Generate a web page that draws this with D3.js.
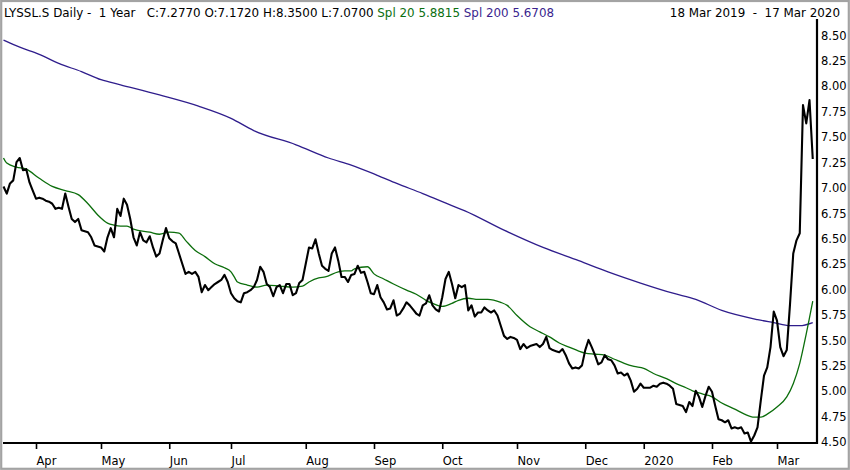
<!DOCTYPE html>
<html>
<head>
<meta charset="utf-8">
<script src="https://cdn.jsdelivr.net/npm/d3@7"></script>
<style>
  html, body { margin: 0; padding: 0; background: #fff; }
  svg { display: block; }
  text { font-family: "DejaVu Sans", Verdana, sans-serif; font-size: 11.5px; fill: #000; white-space: pre; }
  .hdr { font-size: 11.9px; }
</style>
</head>
<body>
<svg id="chart" width="850" height="470"></svg>
<script>
// ---------------- DATA ----------------
const startDate = "2019-03-18";
const endDate = "2020-03-17";
const holidays = ["2019-04-19","2019-04-22","2019-05-01","2019-05-30","2019-06-10","2019-08-01",
  "2019-12-24","2019-12-25","2019-12-26","2019-12-31","2020-01-01","2020-01-02"];
const monthNames = ["Jan","Feb","Mar","Apr","May","Jun","Jul","Aug","Sep","Oct","Nov","Dec"];
const yTicks = [4.50,4.75,5.00,5.25,5.50,5.75,6.00,6.25,6.50,6.75,7.00,7.25,7.50,7.75,8.00,8.25,8.50];

// daily closes, one per trading day (index = trading day number)
const closeValues = [
  7.01,6.94,7.04,7.07,7.25,7.29,7.17,7.18,7.05,6.97,
  6.89,6.90,6.89,6.87,6.86,6.84,6.79,6.80,6.79,6.94,
  6.81,6.69,6.66,6.69,6.58,6.57,6.56,6.51,6.43,6.42,
  6.41,6.37,6.51,6.60,6.51,6.79,6.72,6.89,6.83,6.69,
  6.51,6.43,6.56,6.48,6.46,6.52,6.41,6.32,6.35,6.48,
  6.60,6.50,6.47,6.45,6.35,6.25,6.15,6.17,6.15,6.17,
  6.12,5.97,6.04,5.99,6.02,6.05,6.07,6.09,6.14,6.07,
  5.96,5.91,5.88,5.87,5.96,5.97,5.99,6.02,6.09,6.22,
  6.17,6.05,6.02,5.93,6.02,6.04,5.96,6.05,6.05,5.94,
  5.96,6.06,6.09,6.25,6.41,6.40,6.49,6.35,6.23,6.20,
  6.18,6.35,6.41,6.28,6.12,6.12,6.07,6.14,6.15,6.23,
  6.16,6.17,6.07,5.96,5.95,6.04,5.92,5.87,5.80,5.81,
  5.89,5.74,5.76,5.81,5.87,5.84,5.80,5.76,5.74,5.84,
  5.86,5.94,5.84,5.80,5.78,5.92,6.10,6.17,6.05,5.91,
  6.04,6.02,6.04,5.79,5.84,5.73,5.77,5.77,5.82,5.79,
  5.77,5.79,5.74,5.64,5.54,5.51,5.53,5.52,5.50,5.41,
  5.46,5.42,5.44,5.45,5.46,5.43,5.46,5.53,5.42,5.40,
  5.39,5.38,5.41,5.35,5.27,5.22,5.23,5.22,5.25,5.40,
  5.50,5.43,5.35,5.26,5.28,5.35,5.31,5.30,5.25,5.17,
  5.18,5.15,5.17,5.10,4.99,5.02,5.07,5.03,5.03,5.03,
  5.05,5.04,5.07,5.08,5.07,5.05,5.02,4.87,4.86,4.85,
  4.79,4.89,4.85,5.00,4.94,4.84,4.95,5.04,4.99,4.85,
  4.72,4.71,4.69,4.71,4.63,4.64,4.63,4.64,4.58,4.59,
  4.50,4.56,4.64,4.90,5.15,5.23,5.43,5.78,5.69,5.43,
  5.34,5.40,5.85,6.35,6.48,6.55,7.81,7.63,7.86,7.28
];

// 20-day simple moving average, read at selected trading days [day, value]
const spl20 = [
  [0,7.29],[1,7.24],[4,7.20],[7,7.18],[11,7.09],[15,7.01],[19,6.97],[23,6.93],[26,6.84],[29,6.73],
  [32,6.65],[34,6.63],[36,6.62],[38,6.62],[40,6.59],[45,6.56],[48,6.54],[51,6.56],[54,6.55],[56,6.48],
  [59,6.38],[62,6.32],[65,6.25],[68,6.21],[70,6.17],[71,6.12],[72,6.07],[75,6.04],[78,6.02],[81,6.04],
  [85,6.03],[89,6.02],[92,6.03],[94,6.07],[97,6.11],[99,6.12],[103,6.17],[105,6.18],[107,6.18],[108,6.20],
  [112,6.22],[114,6.15],[117,6.10],[120,6.05],[124,5.99],[127,5.95],[130,5.89],[132,5.86],[135,5.83],
  [138,5.86],[140,5.89],[143,5.91],[146,5.90],[149,5.90],[153,5.87],[155,5.84],[158,5.74],[162,5.63],
  [165,5.58],[168,5.53],[171,5.47],[174,5.43],[177,5.39],[179,5.37],[182,5.36],[185,5.35],[188,5.31],
  [191,5.27],[194,5.24],[197,5.22],[200,5.17],[204,5.12],[207,5.07],[210,5.03],[212,5.00],[215,4.97],
  [218,4.94],[221,4.88],[225,4.82],[228,4.77],[231,4.74],[233,4.74],[235,4.77],[238,4.84],[241,4.94],
  [243,5.07],[245,5.27],[247,5.56],[249,5.8815]
];

// 200-day simple moving average, read at selected trading days [day, value]
const spl200 = [
  [0,8.45],[5,8.38],[11,8.31],[17,8.22],[24,8.14],[30,8.06],[36,8.01],[48,7.91],[60,7.80],[70,7.68],
  [77,7.56],[90,7.42],[100,7.29],[107,7.22],[115,7.12],[121,7.04],[129,6.94],[135,6.86],[142,6.77],
  [154,6.58],[166,6.41],[177,6.28],[186,6.17],[196,6.06],[206,5.96],[213,5.90],[221,5.79],[232,5.70],
  [237,5.67],[242,5.64],[245,5.64],[249,5.6708]
];

const headerMain = "LYSSL.S Daily -  1 Year   C:7.2770 O:7.1720 H:8.3500 L:7.0700 ";
const headerSpl20 = "Spl 20 5.8815";
const headerSpl200 = "Spl 200 5.6708";
const headerRange = "18 Mar 2019  -  17 Mar 2020";

// ---------------- CALENDAR ----------------
const parse = d3.utcParse("%Y-%m-%d");
const fmt = d3.utcFormat("%Y-%m-%d");
const holidaySet = new Set(holidays);
const tradingDays = d3.utcDays(parse(startDate), d3.utcDay.offset(parse(endDate), 1))
  .filter(d => d.getUTCDay() !== 0 && d.getUTCDay() !== 6 && !holidaySet.has(fmt(d)));

const monthTicks = [];
tradingDays.forEach((d, i) => {
  if (i > 0 && d.getUTCMonth() !== tradingDays[i - 1].getUTCMonth()) {
    monthTicks.push({ i, label: d.getUTCMonth() === 0 ? String(d.getUTCFullYear()) : monthNames[d.getUTCMonth()] });
  }
});

// ---------------- CHART ----------------
const svg = d3.select("#chart");
const W = 850, H = 470;
const plotLeft = 3, plotRight = 817, plotTop = 19, plotBottom = 443;

const x = d3.scaleLinear().domain([0, tradingDays.length - 1]).range([3.5, 812.75]);
const y = d3.scaleLinear().domain([4.5, 8.5]).range([441.6, 35]);

// outer frame
svg.append("rect").attr("x", 1.2).attr("y", 1).attr("width", W - 2.4).attr("height", H - 2.2)
  .attr("fill", "#fff").attr("stroke", "#a3a3a3").attr("stroke-width", 2.2);

// header
const hdr = svg.append("text").attr("class", "hdr").attr("x", 4).attr("y", 16.5);
hdr.append("tspan").text(headerMain);
hdr.append("tspan").attr("fill", "#0b6f10").style("fill", "#0b6f10").text(headerSpl20 + " ");
hdr.append("tspan").attr("fill", "#3a1f8e").style("fill", "#3a1f8e").text(headerSpl200);
svg.append("text").attr("class", "hdr").attr("x", 840).attr("y", 16.5).attr("text-anchor", "end").text(headerRange);

// lines
const lineIdx = d3.line().x((d, i) => x(i)).y(d => y(d));
const linePair = d3.line().x(d => x(d[0])).y(d => y(d[1])).curve(d3.curveMonotoneX);

svg.append("path").datum(spl200).attr("d", linePair)
  .attr("fill", "none").attr("stroke", "#2f1d8c").attr("stroke-width", 1.3);
svg.append("path").datum(spl20).attr("d", linePair)
  .attr("fill", "none").attr("stroke", "#0c6e0c").attr("stroke-width", 1.3);
svg.append("path").datum(closeValues).attr("d", lineIdx)
  .attr("fill", "none").attr("stroke", "#000").attr("stroke-width", 2.1).attr("stroke-linejoin", "round");

// bottom axis
const xAxis = d3.axisBottom(x)
  .tickValues(monthTicks.map(t => t.i))
  .tickFormat((d, k) => monthTicks[k].label)
  .tickSize(6).tickSizeOuter(0);
const gx = svg.append("g").attr("transform", `translate(0,${plotBottom})`).call(xAxis);
gx.select(".domain").attr("d", `M${plotLeft},0H${plotRight}`).attr("stroke", "#000").attr("stroke-width", 2.2);
gx.selectAll(".tick line").attr("stroke", "#000").attr("stroke-width", 1.6);
gx.selectAll(".tick text").attr("text-anchor", "start").attr("x", 0).attr("y", 21.5).attr("dy", 0)
  .style("font-family", '"DejaVu Sans", Verdana, sans-serif').style("font-size", "11.5px").attr("fill", "#000");

// right axis
const yAxis = d3.axisRight(y).tickValues(yTicks).tickFormat(d3.format(".2f")).tickSize(0).tickSizeOuter(0);
const gy = svg.append("g").attr("transform", `translate(${plotRight},0)`).call(yAxis);
gy.select(".domain").attr("d", `M0,${plotTop}V${plotBottom + 1}`).attr("stroke", "#000").attr("stroke-width", 2.2);
gy.selectAll(".tick text").attr("x", 4).attr("dy", "0.36em")
  .style("font-family", '"DejaVu Sans", Verdana, sans-serif').style("font-size", "11.5px").attr("fill", "#000");
</script>
</body>
</html>
